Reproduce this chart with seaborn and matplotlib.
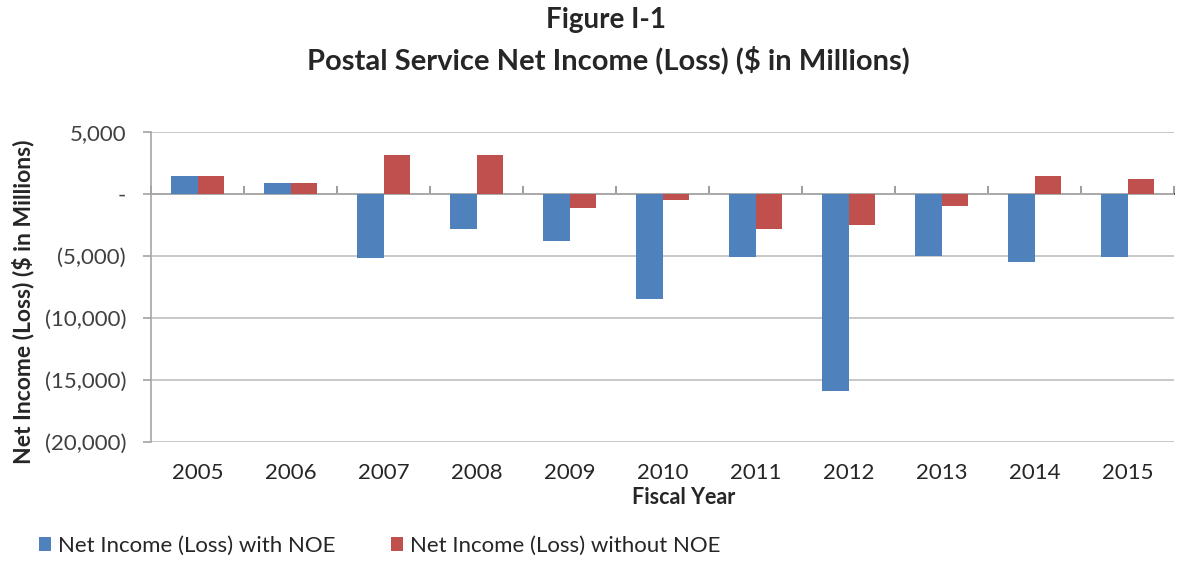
import matplotlib
matplotlib.use("Agg")
import matplotlib.pyplot as plt
import matplotlib.ticker as mticker
from matplotlib.patches import Patch
import seaborn as sns
import pandas as pd

years = ["2005", "2006", "2007", "2008", "2009", "2010", "2011", "2012", "2013", "2014", "2015"]
with_noe = [1445, 900, -5142, -2806, -3794, -8505, -5067, -15906, -4977, -5508, -5060]
without_noe = [1445, 900, 3150, 3150, -1100, -490, -2850, -2460, -980, 1420, 1180]
series_names = ["Net Income (Loss) with NOE", "Net Income (Loss) without NOE"]
yticks = [5000, 0, -5000, -10000, -15000, -20000]

df = pd.DataFrame({
    "Year": years * 2,
    "Value": with_noe + without_noe,
    "Series": [series_names[0]] * len(years) + [series_names[1]] * len(years),
})

sns.set_theme(style="white")
plt.rcParams["font.family"] = ["Lato", "DejaVu Sans"]

colors = ["#4F81BD", "#C0504D"]
fig = plt.figure(figsize=(11.77, 5.63), dpi=100)
ax_l, ax_r = 151, 1174
ax = fig.add_axes([ax_l / 1177, 121 / 563, (ax_r - ax_l) / 1177, 310 / 563])

sns.barplot(data=df, x="Year", y="Value", hue="Series", palette=colors,
            width=0.58, ax=ax, legend=False, saturation=1, edgecolor="none")

ax.set_ylim(-20000, 5000)
ax.set_xlim(-0.5, len(years) - 0.5)
ax.set_yticks(yticks)

def fmt(v, pos):
    if v == 0:
        return "-"
    if v < 0:
        return "({:,.0f})".format(-v)
    return "{:,.0f}".format(v)

ax.yaxis.set_major_formatter(mticker.FuncFormatter(fmt))
ax.grid(axis="y", color="#BFBFBF", linewidth=1.2)
ax.set_axisbelow(True)
for s in ["top", "right", "bottom"]:
    ax.spines[s].set_visible(False)
ax.spines["left"].set_color("#A6A6A6")
ax.spines["left"].set_linewidth(1.2)
ax.tick_params(axis="y", which="major", left=True, length=6, color="#A6A6A6",
               labelsize=16, labelcolor="#404040", pad=12)
ax.tick_params(axis="x", length=0, labelsize=16, labelcolor="#262626", pad=15)

# zero axis with tick marks at category boundaries
zero_frac = (0 - (-20000)) / 25000
sec = ax.secondary_xaxis(zero_frac)
sec.set_xticks([i - 0.5 for i in range(len(years) + 1)])
sec.set_xticklabels([])
sec.tick_params(axis="x", direction="out", length=6, color="#8C8C8C", width=1.2)
sec.spines["bottom"].set_color("#8C8C8C")
sec.spines["bottom"].set_linewidth(1.5)

ax.set_xlabel("Fiscal Year", fontsize=15.5, fontweight="bold")
ax.xaxis.set_label_coords((684 - ax_l) / (ax_r - ax_l), -(497 - 442) / 310, transform=ax.transAxes)
ax.xaxis.label.set_va("center")
ax.set_ylabel("Net Income (Loss) ($ in Millions)", fontsize=16.5, fontweight="bold")
ax.yaxis.set_label_coords(-(ax_l - 23) / (ax_r - ax_l), (442 - 302) / 310, transform=ax.transAxes)
ax.yaxis.label.set_va("center")

fig.text(606 / 1177, 1 - 20 / 563, "Figure I-1", ha="center", va="center",
         fontsize=20, fontweight="bold")
fig.text(608 / 1177, 1 - 60 / 563, "Postal Service Net Income (Loss) ($ in Millions)",
         ha="center", va="center", fontsize=21, fontweight="bold")

handles = [Patch(facecolor=c, edgecolor="none") for c in colors]
fig.legend(handles, series_names, loc="center left", bbox_to_anchor=(19 / 1177, 1 - 546 / 563),
           ncol=2, frameon=False, fontsize=16, handlelength=0.55, handleheight=0.55,
           handletextpad=0.3, columnspacing=2.5, labelcolor="#262626")

fig.savefig("out.png", dpi=100)
